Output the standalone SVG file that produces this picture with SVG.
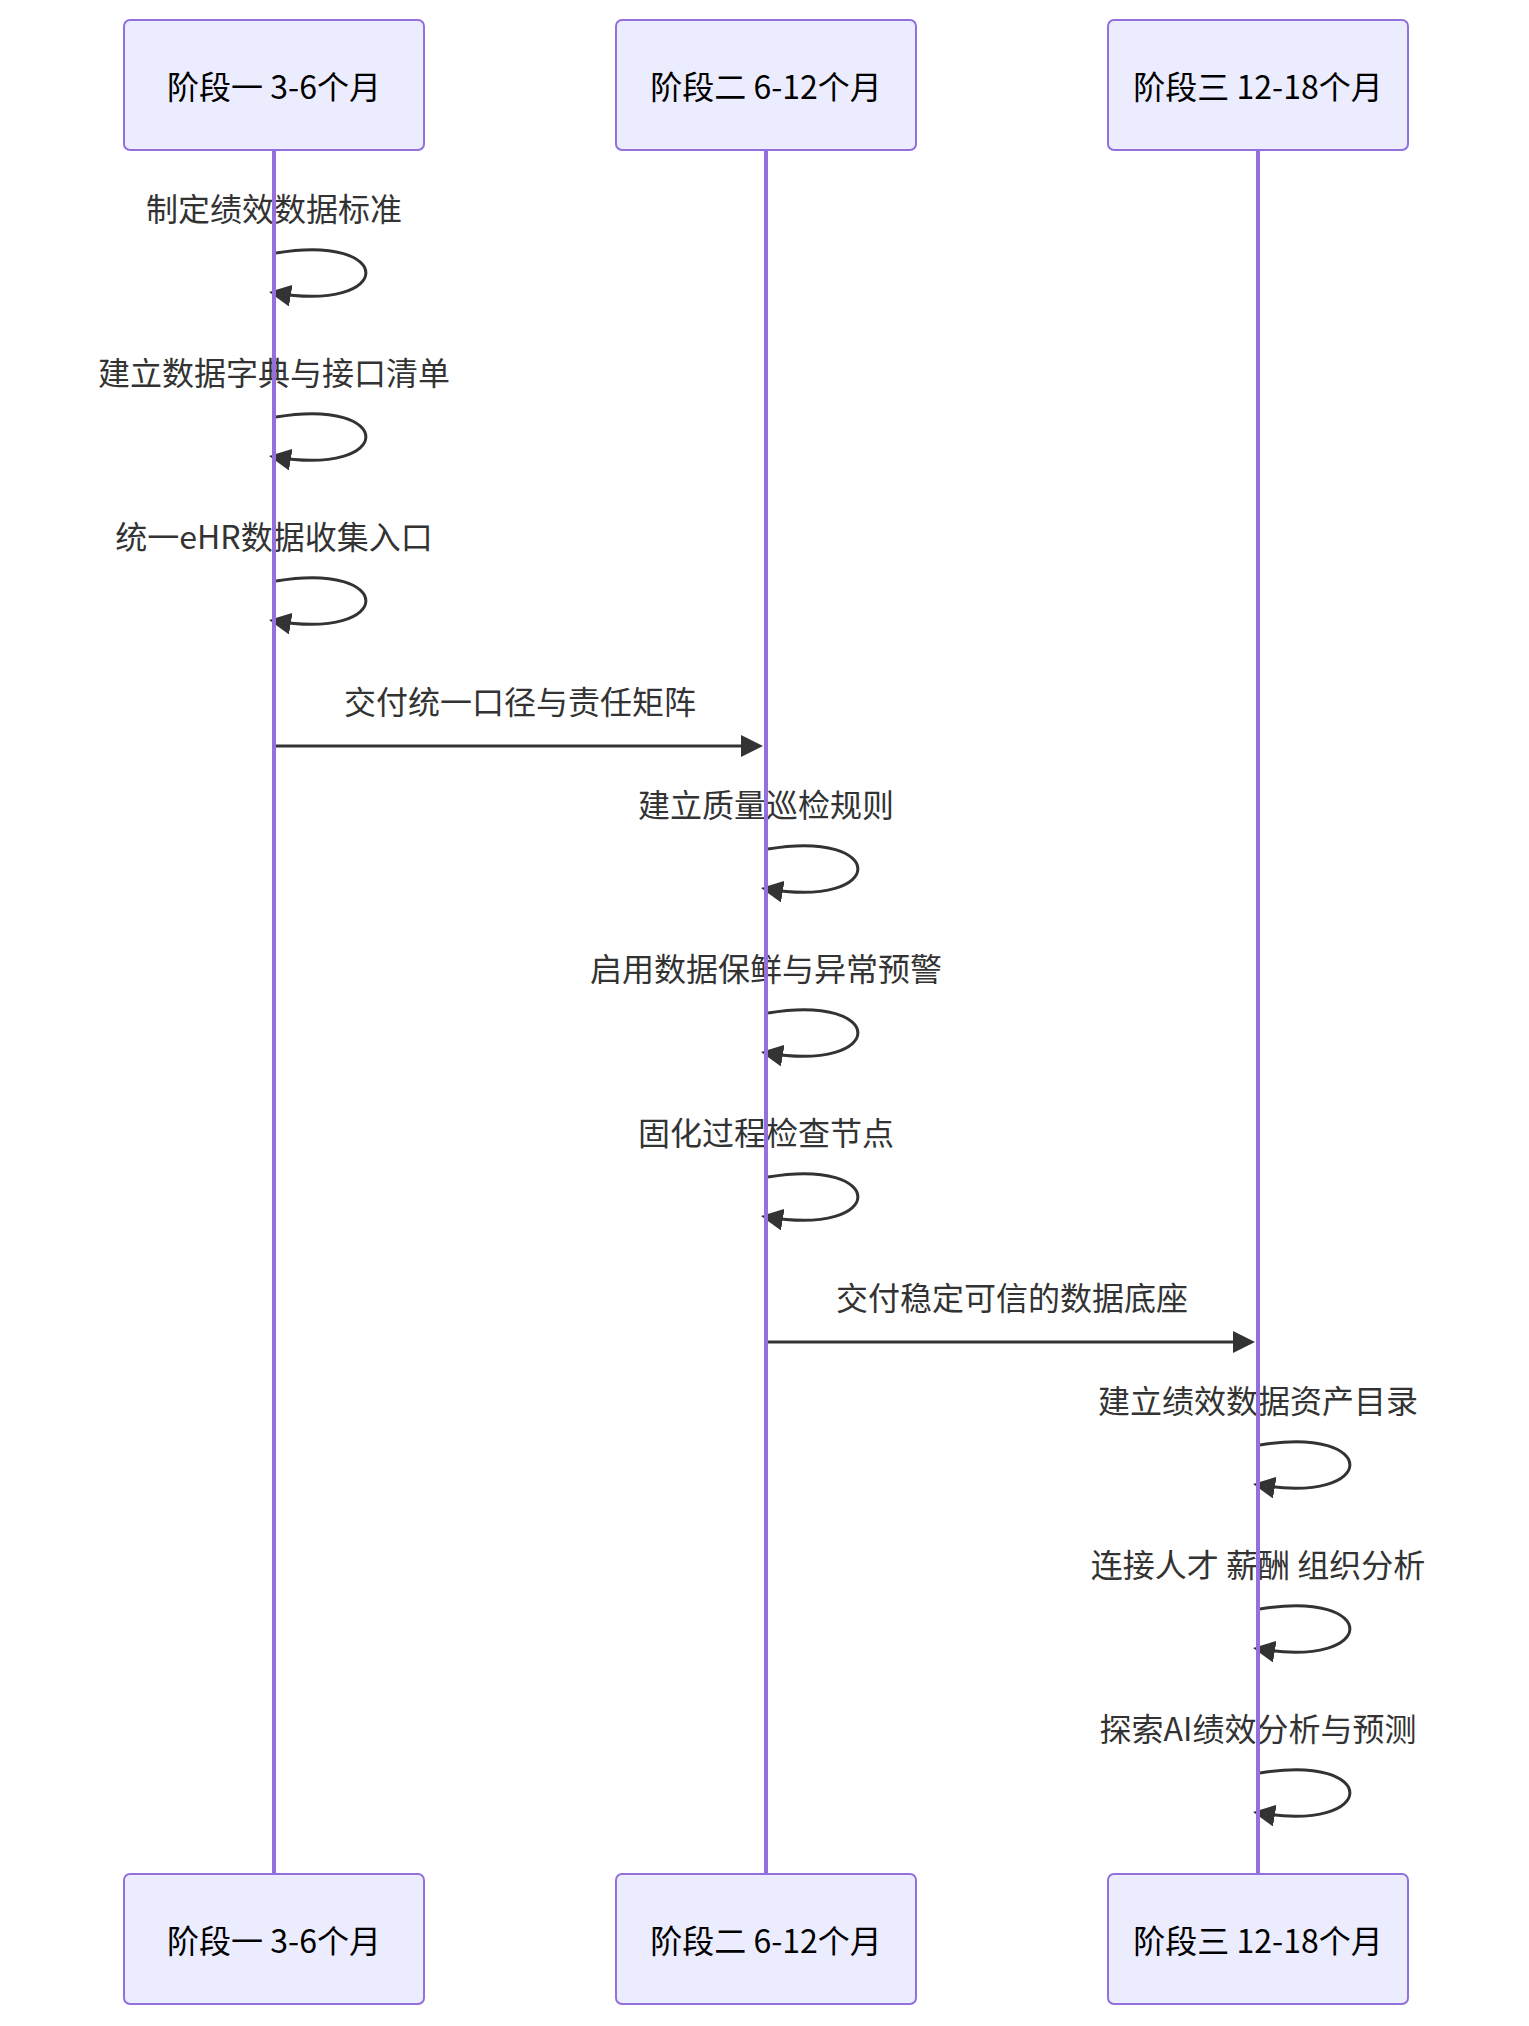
<svg xmlns="http://www.w3.org/2000/svg" width="1529" height="2026" viewBox="0 0 1529 2026">
<style>
.actor{fill:#ECECFF;stroke:#9370DB;stroke-width:2}
.life{stroke:#9370DB;stroke-width:4}
.atext{font-family:"Noto Sans CJK SC","Noto Sans",sans-serif;font-size:32px;fill:#000;text-anchor:middle;dominant-baseline:central}
.mtext{font-family:"Noto Sans CJK SC","Noto Sans",sans-serif;font-size:32px;fill:#333;text-anchor:middle;dominant-baseline:central}
.msg{stroke:#333;stroke-width:3;fill:none;marker-end:url(#arrow)}
</style>
<defs>
<marker id="arrow" markerUnits="userSpaceOnUse" viewBox="0 0 22 22" refX="16" refY="11" markerWidth="22" markerHeight="22" orient="auto">
<path d="M0,0 L22,11 L0,22 z" fill="#333"/>
</marker>
</defs>
<rect width="1529" height="2026" fill="#fff"/>
<g id="connectors">
<g id="m1"><text class="mtext" x="274" y="207">制定绩效数据标准</text><path class="msg" d="M276,253 C396,233 396,313 275,293"/></g>
<g id="m2"><text class="mtext" x="274" y="371">建立数据字典与接口清单</text><path class="msg" d="M276,417 C396,397 396,477 275,457"/></g>
<g id="m3"><text class="mtext" x="274" y="535">统一eHR数据收集入口</text><path class="msg" d="M276,581 C396,561 396,641 275,621"/></g>
<g id="m4"><text class="mtext" x="520" y="700">交付统一口径与责任矩阵</text><path class="msg" d="M275,746 L757,746"/></g>
<g id="m5"><text class="mtext" x="766" y="803">建立质量巡检规则</text><path class="msg" d="M768,849 C888,829 888,909 767,889"/></g>
<g id="m6"><text class="mtext" x="766" y="967">启用数据保鲜与异常预警</text><path class="msg" d="M768,1013 C888,993 888,1073 767,1053"/></g>
<g id="m7"><text class="mtext" x="766" y="1131">固化过程检查节点</text><path class="msg" d="M768,1177 C888,1157 888,1237 767,1217"/></g>
<g id="m8"><text class="mtext" x="1012" y="1296">交付稳定可信的数据底座</text><path class="msg" d="M767,1342 L1249,1342"/></g>
<g id="m9"><text class="mtext" x="1258" y="1399">建立绩效数据资产目录</text><path class="msg" d="M1260,1445 C1380,1425 1380,1505 1259,1485"/></g>
<g id="m10"><text class="mtext" x="1258" y="1563">连接人才 薪酬 组织分析</text><path class="msg" d="M1260,1609 C1380,1589 1380,1669 1259,1649"/></g>
<g id="m11"><text class="mtext" x="1258" y="1727">探索AI绩效分析与预测</text><path class="msg" d="M1260,1773 C1380,1753 1380,1833 1259,1813"/></g>
</g>
<g id="actor1">
<line class="life" x1="274" y1="150" x2="274" y2="1874"/>
<rect class="actor" x="124" y="20" width="300" height="130" rx="6"/>
<text class="atext" x="274" y="85">阶段一 3-6个月</text>
<rect class="actor" x="124" y="1874" width="300" height="130" rx="6"/>
<text class="atext" x="274" y="1939">阶段一 3-6个月</text>
</g>
<g id="actor2">
<line class="life" x1="766" y1="150" x2="766" y2="1874"/>
<rect class="actor" x="616" y="20" width="300" height="130" rx="6"/>
<text class="atext" x="766" y="85">阶段二 6-12个月</text>
<rect class="actor" x="616" y="1874" width="300" height="130" rx="6"/>
<text class="atext" x="766" y="1939">阶段二 6-12个月</text>
</g>
<g id="actor3">
<line class="life" x1="1258" y1="150" x2="1258" y2="1874"/>
<rect class="actor" x="1108" y="20" width="300" height="130" rx="6"/>
<text class="atext" x="1258" y="85">阶段三 12-18个月</text>
<rect class="actor" x="1108" y="1874" width="300" height="130" rx="6"/>
<text class="atext" x="1258" y="1939">阶段三 12-18个月</text>
</g>
</svg>
